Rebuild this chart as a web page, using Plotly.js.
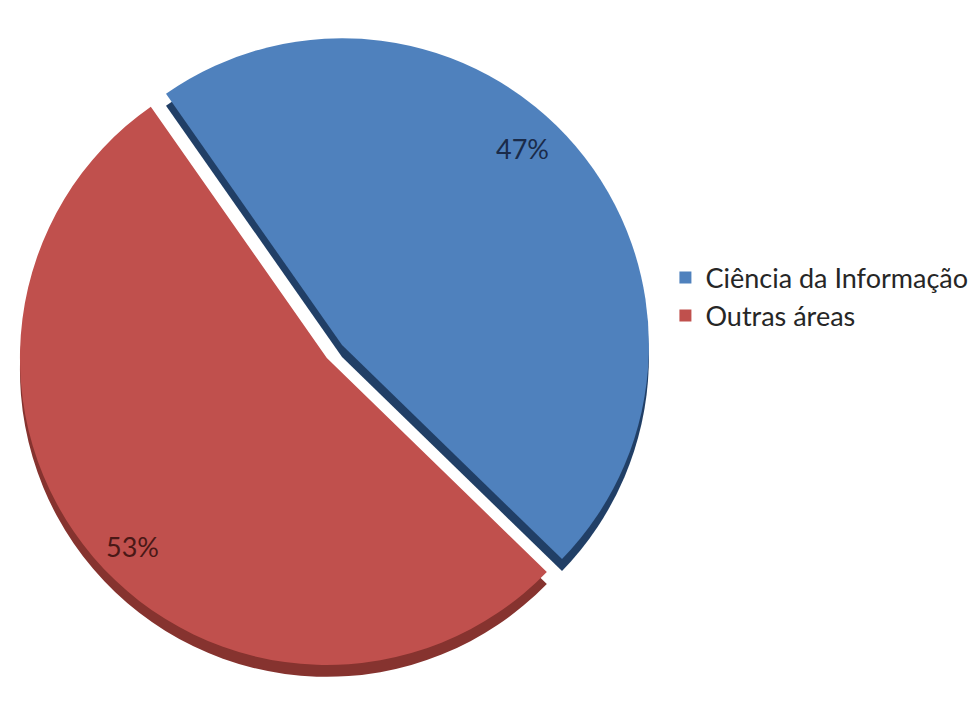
<!DOCTYPE html>
<html>
<head>
<meta charset="utf-8">
<script src="https://cdn.plot.ly/plotly-3.0.1.min.js"></script>
<style>html,body{margin:0;padding:0;background:#fff}#chart{width:980px;height:702px}</style>
</head>
<body>
<div id="chart"></div>
<script>
const labels = ["Ciência da Informação", "Outras áreas"];
const values = [47, 53];
const colors = ["#4F81BD", "#C0504D"];
const sideColors = ["#213F66", "#86332F"];
const pulls = [0.065, 0];

const total = values.reduce((a, b) => a + b, 0);
const pctText = values.map(v => Math.round(v / total * 100) + "%");

const common = {
  type: "pie",
  labels: labels,
  values: values,
  sort: false,
  direction: "clockwise",
  rotation: -35,
  pull: pulls,
  textinfo: "none",
  hoverinfo: "label+percent"
};

const shadow = Object.assign({}, common, {
  marker: {colors: sideColors, line: {width: 0}},
  domain: {x: [0, 0.667], y: [0.007, 0.939]},
  showlegend: false
});

const main = Object.assign({}, common, {
  marker: {colors: colors, line: {width: 0}},
  domain: {x: [0, 0.667], y: [0.024, 0.956]},
  showlegend: true
});

const layout = {
  width: 980, height: 702,
  margin: {l: 0, r: 0, t: 0, b: 0},
  paper_bgcolor: "#ffffff",
  font: {family: "Lato, 'Noto Sans', sans-serif", color: "#222222"},
  legend: {
    x: 0.679, xanchor: "left", y: 0.577, yanchor: "middle",
    font: {size: 27, color: "#262626"},
    bgcolor: "rgba(0,0,0,0)",
    traceorder: "normal"
  },
  annotations: [
    {text: pctText[0], xref: "paper", yref: "paper", x: 0.533, y: 0.789,
     xanchor: "center", yanchor: "middle", showarrow: false,
     font: {size: 27, color: "#1A2B4A"}},
    {text: pctText[1], xref: "paper", yref: "paper", x: 0.135, y: 0.222,
     xanchor: "center", yanchor: "middle", showarrow: false,
     font: {size: 27, color: "#4A1816"}}
  ]
};

Plotly.newPlot("chart", [shadow, main], layout, {displayModeBar: false, staticPlot: true});
</script>
</body>
</html>
